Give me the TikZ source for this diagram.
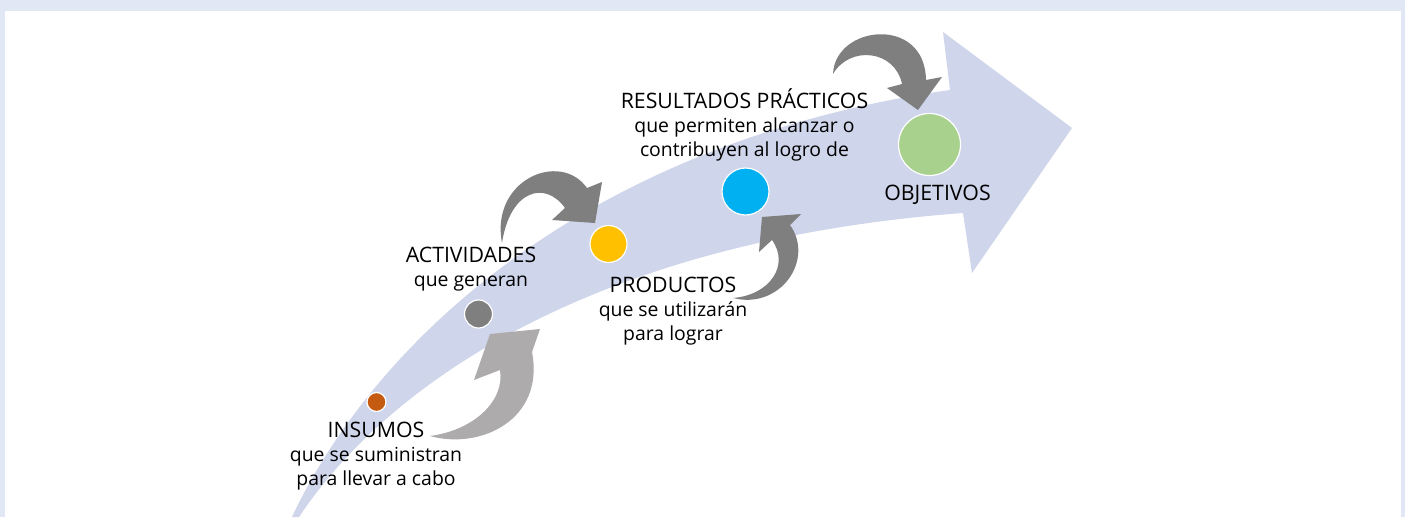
\documentclass[tikz,border=0pt]{standalone}
\usepackage{fontspec}
\setmainfont{Open Sans}
\definecolor{framebg}{HTML}{E1E7F5}
\definecolor{bandblue}{HTML}{CFD5EA}
\definecolor{lightarrow}{HTML}{ADABAB}
\definecolor{darkarrow}{HTML}{7F7F7F}
\definecolor{insumocol}{HTML}{C55A11}
\definecolor{activcol}{HTML}{7F7F7F}
\definecolor{productcol}{HTML}{FFC000}
\definecolor{resultcol}{HTML}{00B0F0}
\definecolor{objetcol}{HTML}{A9D18E}
\newcommand{\headtxt}[1]{{\fontsize{21.3}{24}\selectfont #1}}

\begin{document}
\begin{tikzpicture}[x=1pt,y=-1pt,
  lbl/.style={align=center,inner sep=0pt,font=\fontsize{19.4}{24}\selectfont,anchor=north},
  dot/.style={circle,draw=white,line width=1.2pt,inner sep=0pt}]

\useasboundingbox (0,0) rectangle (1405,517);
\fill[framebg] (0,0) rectangle (1405,517);
\fill[white] (5,11) rectangle (1401,517);

\fill[bandblue] (292,517) .. controls (380,330) and (600,140) .. (950,90)
  -- (943,32) -- (1072,128) -- (972,273) -- (963,213)
  .. controls (600,240) and (390,380) .. (299,517) -- cycle;

\fill[lightarrow] (430,436) .. controls (480,450) and (545,420) .. (532,352)
  -- (540,329) -- (490,334) -- (474,380) -- (500,370)
  .. controls (505,400) and (475,430) .. (430,436) -- cycle;
\fill[darkarrow] (502,243) .. controls (490,180) and (560,150) .. (587,188)
  -- (602,182) -- (595,223) -- (552,220) -- (565,208)
  .. controls (545,180) and (510,190) .. (502,243) -- cycle;
\fill[darkarrow] (733,298) .. controls (780,310) and (815,260) .. (790,225)
  -- (801,214) -- (762,217) -- (759,252) -- (772,240)
  .. controls (790,265) and (770,295) .. (733,298) -- cycle;
\fill[darkarrow] (833,74) .. controls (835,25) and (925,15) .. (926,80)
  -- (942,77) -- (918,110) -- (887,88) -- (902,84)
  .. controls (895,50) and (850,45) .. (833,74) -- cycle;

\node[dot,fill=insumocol,minimum size=19pt] (insumos) at (376.5,402) {};
\node[dot,fill=activcol,minimum size=28pt] (actividades) at (478.5,314) {};
\node[dot,fill=productcol,minimum size=37pt] (productos) at (608.5,244) {};
\node[dot,fill=resultcol,minimum size=47pt] (resultados) at (745.5,191.5) {};
\node[dot,fill=objetcol,minimum size=62pt] (objetivos) at (929.5,144.5) {};

\node[lbl] (tinsumos) at (376,422) {\headtxt{INSUMOS}\\que se suministran\\para llevar a cabo};
\node[lbl] (tactividades) at (471,247) {\headtxt{ACTIVIDADES}\\que generan};
\node[lbl] (tproductos) at (673,277) {\headtxt{PRODUCTOS}\\que se utilizarán\\para lograr};
\node[lbl] (tresultados) at (744.5,88) {\headtxt{RESULTADOS PRÁCTICOS}\\que permiten alcanzar o\\contribuyen al logro de};
\node[lbl] (tobjetivos) at (937.5,185) {\headtxt{OBJETIVOS}};

\end{tikzpicture}
\end{document}
